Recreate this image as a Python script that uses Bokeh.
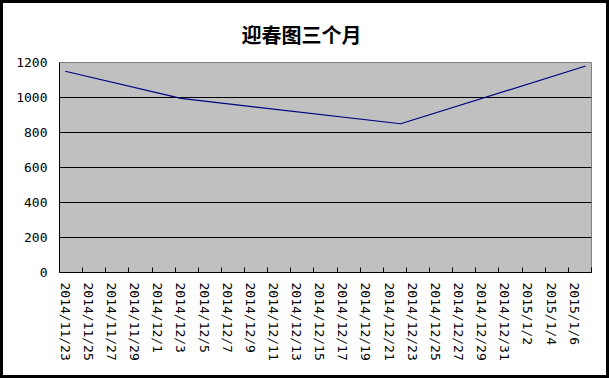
import pandas as pd
from bokeh.plotting import figure
from bokeh.models import Range1d, FixedTicker, ColumnDataSource
from bokeh.embed import file_html
from bokeh.resources import INLINE

# ---- data ----
title_text = "迎春图三个月"
first_day = "2014/11/23"
last_day = "2015/1/7"
dates = ["2014/11/23", "2014/12/3", "2014/12/22", "2015/1/7"]
values = [1150, 995, 850, 1180]
tick_labels = ["2014/11/23", "2014/11/25", "2014/11/27", "2014/11/29",
               "2014/12/1", "2014/12/3", "2014/12/5", "2014/12/7",
               "2014/12/9", "2014/12/11", "2014/12/13", "2014/12/15",
               "2014/12/17", "2014/12/19", "2014/12/21", "2014/12/23",
               "2014/12/25", "2014/12/27", "2014/12/29", "2014/12/31",
               "2015/1/2", "2015/1/4", "2015/1/6"]
y_ticks = [0, 200, 400, 600, 800, 1000, 1200]

start = pd.to_datetime(first_day, format="%Y/%m/%d")
end = pd.to_datetime(last_day, format="%Y/%m/%d")
ndays = (end - start).days

def day_index(s):
    return (pd.to_datetime(s, format="%Y/%m/%d") - start).days

xs = [day_index(d) for d in dates]
tick_pos = [day_index(t) for t in tick_labels]
boundaries = [t - 0.5 for t in tick_pos] + [ndays + 0.5]

src = ColumnDataSource(dict(x=xs, y=values))

p = figure(frame_width=532, frame_height=210,
           min_border_left=56, min_border_right=15,
           min_border_top=59, min_border_bottom=103,
           output_backend="svg", toolbar_location=None,
           x_range=Range1d(-0.5, ndays + 0.5), y_range=Range1d(0, 1200))
p.styles = {"border": "3px solid black"}

p.background_fill_color = "#C0C0C0"
p.border_fill_color = "white"
p.outline_line_color = "#808080"
p.outline_line_width = 1

p.title.text = title_text
p.title.align = "left"
p.title.offset = 182
p.title.vertical_align = "top"
p.title.text_font = "Noto Sans CJK SC"
p.title.text_font_size = "20px"
p.title.text_font_style = "bold"
p.title.text_color = "black"
p.title.standoff = 24

p.line("x", "y", source=src, line_color="#000080", line_width=1.2)

# x axis
p.xaxis.ticker = FixedTicker(ticks=tick_pos, minor_ticks=boundaries)
p.xaxis.major_label_overrides = {t: lab for t, lab in zip(tick_pos, tick_labels)}
p.xaxis.major_label_orientation = "vertical"
p.xaxis.major_tick_in = 0
p.xaxis.major_tick_out = 0
p.xaxis.minor_tick_in = 5
p.xaxis.minor_tick_out = 0
p.xaxis.minor_tick_line_color = "black"
p.xaxis.axis_line_color = "black"
p.xaxis.major_label_standoff = 10
p.xaxis.major_label_text_font = "DejaVu Sans Mono"
p.xaxis.major_label_text_font_size = "13px"
p.xaxis.major_label_text_color = "black"

# y axis
p.yaxis.ticker = FixedTicker(ticks=y_ticks)
p.yaxis.major_tick_in = 0
p.yaxis.major_tick_out = 0
p.yaxis.minor_tick_line_color = None
p.yaxis.axis_line_color = "black"
p.yaxis.major_label_standoff = 12
p.yaxis.major_label_text_font = "DejaVu Sans Mono"
p.yaxis.major_label_text_font_size = "13px"
p.yaxis.major_label_text_color = "black"

p.xgrid.grid_line_color = None
p.ygrid.ticker = FixedTicker(ticks=y_ticks)
p.ygrid.grid_line_color = "black"
p.ygrid.grid_line_alpha = 1.0

open("out.html", "w").write(file_html(p, INLINE))
